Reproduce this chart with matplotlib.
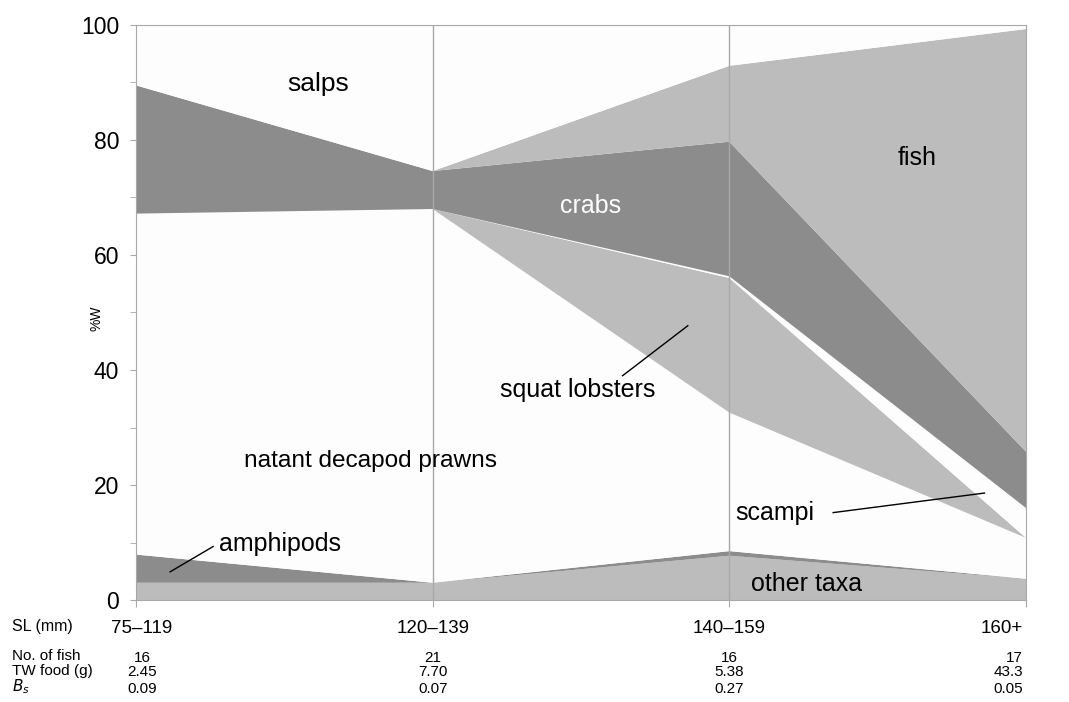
import numpy as np
import matplotlib
matplotlib.use('Agg')
import matplotlib.pyplot as plt

plt.rcParams['font.family'] = ['Liberation Sans', 'DejaVu Sans']

# size classes and %W per prey group (bottom to top of the stack)
size_classes = ['75\u2013119', '120\u2013139', '140\u2013159', '160+']
other_taxa = [3.0, 3.0, 7.7, 3.7]
amphipods = [4.9, 0.0, 0.8, 0.0]
prawns = [59.3, 65.0, 24.1, 7.1]
squat_lobsters = [0.0, 0.0, 23.4, 0.0]
scampi = [0.0, 0.0, 0.3, 5.2]
crabs = [22.3, 6.6, 23.4, 9.8]
fish = [0.0, 0.0, 13.2, 73.5]
salps = [10.5, 25.4, 7.1, 0.7]

n_fish = ['16', '21', '16', '17']
tw_food = ['2.45', '7.70', '5.38', '43.3']
bs = ['0.09', '0.07', '0.27', '0.05']

light = '#bcbcbc'
dark = '#8c8c8c'
white = '#fdfdfd'

fig = plt.figure(figsize=(10.69, 7.02), dpi=100)
ax = fig.add_axes([136 / 1069, 102 / 702, 890 / 1069, 575 / 702])

x = np.arange(len(size_classes))
ax.stackplot(x, other_taxa, amphipods, prawns, squat_lobsters, scampi,
             crabs, fish, salps,
             colors=[light, dark, white, light, white, dark, light, white],
             linewidth=0)

for xv in [1, 2]:
    ax.axvline(xv, color='#a8a8a8', lw=1, zorder=3)

ax.set_xlim(0, 3)
ax.set_ylim(0, 100)
ax.set_yticks(range(0, 101, 20))
ax.set_yticks(range(10, 100, 20), minor=True)
ax.tick_params(axis='y', which='both', direction='out', length=4,
               color='#a8a8a8', labelsize=16.5, pad=8)
ax.set_xticks(x)
ax.set_xticklabels([])
ax.tick_params(axis='x', direction='out', length=5, color='#a8a8a8')
for s in ax.spines.values():
    s.set_color('#a8a8a8')
ax.set_ylabel('%W', fontsize=10)
ax.yaxis.set_label_coords(-0.036, 0.49)

# group labels
fs = 18
ax.text(0.613, 89.7, 'salps', fontsize=19, ha='center', va='center')
ax.text(1.533, 68.5, 'crabs', fontsize=fs, ha='center', va='center', color='white')
ax.text(2.633, 76.9, 'fish', fontsize=fs, ha='center', va='center')
ax.text(1.49, 36.5, 'squat lobsters', fontsize=fs, ha='center', va='center')
ax.text(0.792, 24.1, 'natant decapod prawns', fontsize=17.6, ha='center', va='center')
ax.text(0.485, 9.8, 'amphipods', fontsize=fs, ha='center', va='center')
ax.text(2.154, 15.2, 'scampi', fontsize=fs, ha='center', va='center')
ax.text(2.262, 2.7, 'other taxa', fontsize=fs, ha='center', va='center')

ax.plot([0.115, 0.26], [4.9, 9.3], color='black', lw=1, zorder=4)
ax.plot([1.64, 1.86], [39.0, 47.7], color='black', lw=1, zorder=4)
ax.plot([2.35, 2.86], [15.2, 18.6], color='black', lw=1, zorder=4)

# table below the chart
tr = ax.get_xaxis_transform()
fig.text(12 / 1069, 1 - 627 / 702, 'SL (mm)', fontsize=11.5, va='center')
fig.text(12 / 1069, 1 - 656 / 702, 'No. of fish', fontsize=11, va='center')
fig.text(12 / 1069, 1 - 671 / 702, 'TW food (g)', fontsize=11, va='center')
fig.text(12 / 1069, 1 - 687 / 702, r'$B_s$', fontsize=11, va='center')

rows = [(size_classes, -0.049, 13.5), (n_fish, -0.1, 11),
        (tw_food, -0.126, 11), (bs, -0.154, 11)]
for vals, yy, size in rows:
    for i, v in enumerate(vals):
        if i == 0:
            xx, ha = 0.02, 'center'
        elif i == 3:
            xx, ha = 2.99, 'right'
        else:
            xx, ha = i, 'center'
        ax.text(xx, yy, v, transform=tr, fontsize=size, ha=ha, va='center',
                clip_on=False)

fig.savefig('out.png', dpi=100)
